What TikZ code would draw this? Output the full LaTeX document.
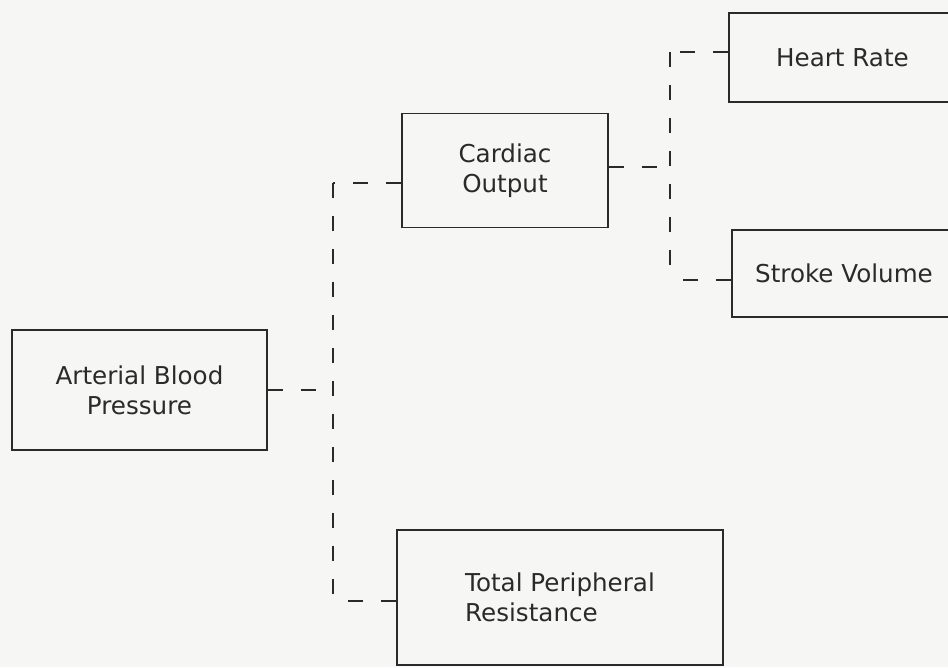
\documentclass[tikz,border=0pt]{standalone}
\usepackage{fontspec}
\setmainfont{DejaVu Sans}
\usetikzlibrary{positioning}
\definecolor{ink}{HTML}{2A2A2A}
\definecolor{paper}{HTML}{F6F6F4}

\begin{document}
\begin{tikzpicture}[x=0.02cm,y=-0.02cm,
    box/.style={draw=ink,line width=1.1pt,text=ink,inner sep=0pt,
                font=\fontsize{14}{17}\selectfont,align=center},
    link/.style={draw=ink,line width=0.8pt,dash pattern=on 0.3cm off 0.36cm}]
	            \fill[paper] (0,0) rectangle (948,667);
	            \clip (0,0) rectangle (948,667);
	            \node[box,minimum width=5.1cm,minimum height=2.4cm] (abp) at (139.5,390) {Arterial Blood\\Pressure};
	            \node[box,minimum width=4.12cm,minimum height=2.28cm] (co) at (505,170.5) {Cardiac\\Output};
	            \node[box,minimum width=6.52cm,minimum height=2.7cm,align=left] (tpr) at (560,597.5) {Total Peripheral\\Resistance};
	            \node[box,minimum width=4.54cm,minimum height=1.78cm] (hr) at (842.5,57.5) {Heart Rate};
	            \node[box,minimum width=4.48cm,minimum height=1.74cm] (sv) at (844,273.5) {Stroke Volume};
	            \coordinate (t_1) at (333,183);
	            \coordinate (b_1) at (333,601);
	            \coordinate (t_2) at (670,52);
	            \coordinate (b_2) at (670,280);
	            \draw[link] (abp.east) -- (abp.east -| t_1);
	            \draw[link] (t_1) -- (b_1);
	            \draw[link] (co.west |- t_1) -- (t_1);
	            \draw[link] (tpr.west |- b_1) -- (b_1);
	            \draw[link] ([yshift=0.07cm]co.east) -- ([yshift=0.07cm]co.east -| t_2);
	            \draw[link] (t_2) -- (b_2);
	            \draw[link] (hr.west |- t_2) -- (t_2);
	            \draw[link] (sv.west |- b_2) -- (b_2);
\end{tikzpicture}
\end{document}
